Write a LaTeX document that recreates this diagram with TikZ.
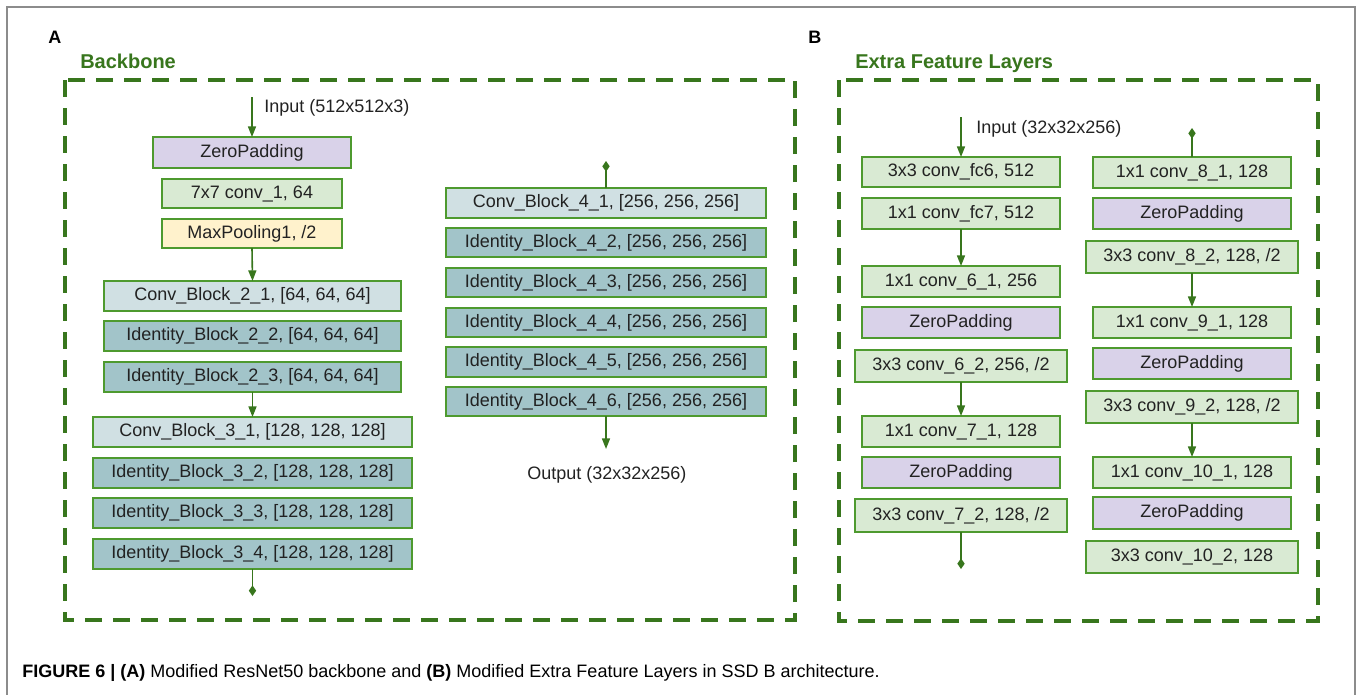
\documentclass[tikz,border=0pt]{standalone}
\usepackage{fontspec}
\setmainfont{Liberation Sans}
\usetikzlibrary{arrows.meta}
\definecolor{dgreen}{HTML}{38761D}
\definecolor{bgreen}{HTML}{4E9A2F}
\definecolor{fgreen}{HTML}{D9EAD3}
\definecolor{fpurple}{HTML}{D9D2E9}
\definecolor{fyellow}{HTML}{FFF2CC}
\definecolor{fconv}{HTML}{D0E0E3}
\definecolor{fident}{HTML}{A2C4C9}
\definecolor{txt}{HTML}{222222}
\definecolor{frame}{HTML}{8C8C8C}
\tikzset{
 layer/.style={draw=bgreen, line width=1.1pt, inner sep=0pt, outer sep=0pt, font=\fontsize{13.5}{16}\selectfont, text=txt},
 gbox/.style={layer, fill=fgreen},
 pbox/.style={layer, fill=fpurple},
 ybox/.style={layer, fill=fyellow},
 cbox/.style={layer, fill=fconv},
 ibox/.style={layer, fill=fident},
 flow/.style={draw=dgreen, line width=1.2pt, -{Triangle[length=8pt,width=6pt]}},
 link/.style={draw=dgreen, line width=1.2pt, -{Diamond[length=8pt,width=5.5pt]}},
 panel/.style={draw=dgreen, line width=3pt, dash pattern=on 12.75pt off 8.25pt},
 heading/.style={font=\bfseries\fontsize{15}{18}\selectfont, text=dgreen, anchor=base west, inner sep=0pt},
 letter/.style={font=\bfseries\fontsize{13.5}{16}\selectfont, anchor=base west, inner sep=0pt},
 plain/.style={font=\fontsize{13.5}{16}\selectfont, text=txt, anchor=base west, inner sep=0pt},
}
\newcommand\blk[7]{\node[#2, minimum width={(#5-#3)*0.75pt}, minimum height={(#6-#4)*0.75pt}] (#1) at ({(#3+#5)/2},{(#4+#6)/2}) {#7};}
\begin{document}
\begin{tikzpicture}[x=0.75pt,y=-0.75pt]
\useasboundingbox (0,0) rectangle (1357,694);
% outer frame
\draw[frame, line width=1.5pt] (7,700) -- (7,7) -- (1355,7) -- (1355,700);
% panel labels
\node[letter] (la) at (48,43) {A};
\node[heading] (hb) at (80,68) {Backbone};
\node[letter] (lb) at (808,43) {B};
\node[heading] (he) at (855,68) {Extra Feature Layers};
% dashed panels
\draw[panel] (65,80) rectangle (795,620);
\draw[panel] (839,80) rectangle (1318,621);
% ---------- Panel A, left column
\blk{zp}{pbox}{153}{137}{351}{168}{ZeroPadding}
\blk{c1}{gbox}{162}{179}{342}{208}{7x7 conv\_1, 64}
\blk{mp}{ybox}{162}{219}{342}{248}{MaxPooling1, /2}
\blk{cb21}{cbox}{104}{281}{401}{311}{Conv\_Block\_2\_1, [64, 64, 64]}
\blk{ib22}{ibox}{104}{321}{401}{351}{Identity\_Block\_2\_2, [64, 64, 64]}
\blk{ib23}{ibox}{104}{362}{401}{392}{Identity\_Block\_2\_3, [64, 64, 64]}
\blk{cb31}{cbox}{93}{417}{412}{447}{Conv\_Block\_3\_1, [128, 128, 128]}
\blk{ib32}{ibox}{93}{458}{412}{488}{Identity\_Block\_3\_2, [128, 128, 128]}
\blk{ib33}{ibox}{93}{498}{412}{528}{Identity\_Block\_3\_3, [128, 128, 128]}
\blk{ib34}{ibox}{93}{539}{412}{569}{Identity\_Block\_3\_4, [128, 128, 128]}
\coordinate (inA) at (252,97);
\coordinate (endA) at (252.5,596);
\node[plain] (inAl) at (264,112) {Input (512x512x3)};
\draw[flow] (inA) -- (zp.north);
\draw[flow] (mp.south) -- (cb21.north);
\draw[flow] (ib23.south) -- (cb31.north);
\draw[link] (ib34.south) -- (endA);
% ---------- Panel A, right column
\blk{cb41}{cbox}{446}{188}{766}{218}{Conv\_Block\_4\_1, [256, 256, 256]}
\blk{ib42}{ibox}{446}{228}{766}{257}{Identity\_Block\_4\_2, [256, 256, 256]}
\blk{ib43}{ibox}{446}{268}{766}{297}{Identity\_Block\_4\_3, [256, 256, 256]}
\blk{ib44}{ibox}{446}{308}{766}{337}{Identity\_Block\_4\_4, [256, 256, 256]}
\blk{ib45}{ibox}{446}{347}{766}{377}{Identity\_Block\_4\_5, [256, 256, 256]}
\blk{ib46}{ibox}{446}{387}{766}{416}{Identity\_Block\_4\_6, [256, 256, 256]}
\coordinate (topA) at (606,161);
\coordinate (outA) at (606,449);
\node[plain] (outAl) at (527,479) {Output (32x32x256)};
\draw[link] (cb41.north) -- (topA);
\draw[flow] (ib46.south) -- (outA);
% ---------- Panel B, left column
\blk{fc6}{gbox}{862}{157}{1060}{187}{3x3 conv\_fc6, 512}
\blk{fc7}{gbox}{862}{198}{1060}{229}{1x1 conv\_fc7, 512}
\blk{c61}{gbox}{862}{266}{1060}{297}{1x1 conv\_6\_1, 256}
\blk{zpa}{pbox}{862}{307}{1060}{338}{ZeroPadding}
\blk{c62}{gbox}{855}{350}{1067}{382}{3x3 conv\_6\_2, 256, /2}
\blk{c71}{gbox}{862}{416}{1060}{447}{1x1 conv\_7\_1, 128}
\blk{zpb}{pbox}{862}{457}{1060}{488}{ZeroPadding}
\blk{c72}{gbox}{855}{499}{1067}{532}{3x3 conv\_7\_2, 128, /2}
\coordinate (inB) at (961,117);
\coordinate (endB) at (961,569);
\node[plain] (inBl) at (976,133) {Input (32x32x256)};
\draw[flow] (inB) -- (fc6.north);
\draw[flow] (fc7.south) -- (c61.north);
\draw[flow] (c62.south) -- (c71.north);
\draw[link] (c72.south) -- (endB);
% ---------- Panel B, right column
\blk{c81}{gbox}{1093}{157}{1291}{188}{1x1 conv\_8\_1, 128}
\blk{zpc}{pbox}{1093}{198}{1291}{229}{ZeroPadding}
\blk{c82}{gbox}{1086}{241}{1298}{273}{3x3 conv\_8\_2, 128, /2}
\blk{c91}{gbox}{1093}{307}{1291}{338}{1x1 conv\_9\_1, 128}
\blk{zpd}{pbox}{1093}{348}{1291}{379}{ZeroPadding}
\blk{c92}{gbox}{1086}{391}{1298}{423}{3x3 conv\_9\_2, 128, /2}
\blk{c101}{gbox}{1093}{457}{1291}{488}{1x1 conv\_10\_1, 128}
\blk{zpe}{pbox}{1093}{497}{1291}{529}{ZeroPadding}
\blk{c102}{gbox}{1086}{541}{1298}{573}{3x3 conv\_10\_2, 128}
\coordinate (topB) at (1192,128);
\draw[link] (c81.north) -- (topB);
\draw[flow] (c82.south) -- (c91.north);
\draw[flow] (c92.south) -- (c101.north);
% caption
\node[plain, text=black] (cap) at (22,677) {\textbf{FIGURE 6 |} \textbf{(A)} Modified ResNet50 backbone and \textbf{(B)} Modified Extra Feature Layers in SSD B architecture.};
\end{tikzpicture}
\end{document}
